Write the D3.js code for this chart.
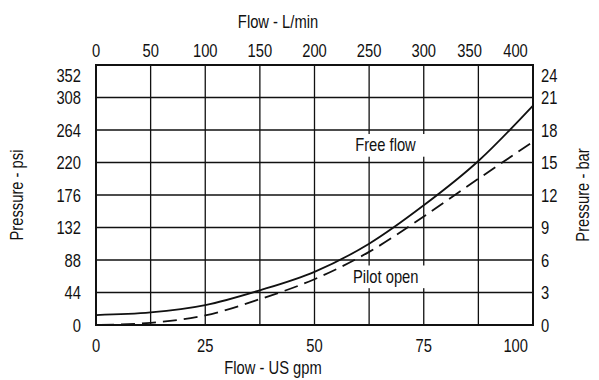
<!DOCTYPE html>
<html>
<head>
<meta charset="utf-8">
<script src="https://cdn.jsdelivr.net/npm/d3@7"></script>
<style>
  html, body { margin: 0; padding: 0; background: #fff; }
  svg text { font-family: "Liberation Sans", Arial, sans-serif; font-size: 18px; fill: #111; }
</style>
</head>
<body>
<svg id="chart" width="599" height="380"></svg>
<script>
// Flow (US gpm) sampled along each curve
const flowGpm = [0, 12.5, 25, 37.5, 50, 62.5, 75, 87.5, 100];
// Pressure drop (psi) for each curve
const freeFlowPsi  = [13.5, 17, 27, 47, 72, 110, 162, 222, 297];
const pilotOpenPsi = [0, 3, 13, 35, 62, 99, 147, 198, 248];

// Axis tick labels
const gpmTicks = [0, 25, 50, 75, 100];
const lpmTicks = [0, 50, 100, 150, 200, 250, 300, 350, 400];
const psiTicks = [0, 44, 88, 132, 176, 220, 264, 308, 352];
const barTicks = [0, 3, 6, 9, 12, 15, 18, 21, 24];

// Curve labels, placed in data units (gpm, psi)
const curveLabels = [
  { text: "Free flow",  gpm: 59.3, psi: 235 },
  { text: "Pilot open", gpm: 58.8, psi: 57 }
];

const svg = d3.select("#chart");
const L = 96, R = 533, T = 65, B = 325;
const NARROW = 0.82; // horizontal squeeze for a condensed face

const x = d3.scaleLinear().domain([0, 100]).range([L, R]);
const yPsi = d3.scaleLinear().domain([0, 352]).range([B, T]);
const yBar = d3.scaleLinear().domain([0, 24]).range([B, T]);
// L/min labels sit on the grid columns, the last two squeezed toward the edge
const xLpm = d3.scaleLinear().domain([0, 300, 400]).range([x(0), x(75), x(96)]);

// Draw condensed text: a group at (px, py), optionally rotated, squeezed horizontally
function label(parent, px, py, str, anchor, rot) {
  const g = parent.append("g")
    .attr("transform", `translate(${px},${py})${rot ? ` rotate(${rot})` : ""} scale(${NARROW},1)`);
  g.append("text").attr("text-anchor", anchor || "middle").text(str);
  return g;
}

// Grid
const gridCols = d3.range(12.5, 100, 12.5);
svg.append("g").selectAll("line").data(gridCols).join("line")
  .attr("x1", d => x(d)).attr("x2", d => x(d))
  .attr("y1", T).attr("y2", B)
  .attr("stroke", "#111").attr("stroke-width", 1.3);
svg.append("g").selectAll("line").data(psiTicks.slice(1, -1)).join("line")
  .attr("x1", L).attr("x2", R)
  .attr("y1", d => yPsi(d)).attr("y2", d => yPsi(d))
  .attr("stroke", "#111").attr("stroke-width", 1.3);

// Curve labels with white backing boxes over the grid
const curveLabelLayer = svg.append("g");
curveLabels.forEach(c => {
  const g = label(curveLabelLayer, x(c.gpm), yPsi(c.psi), c.text, "start");
  const bb = g.select("text").node().getBBox();
  g.insert("rect", "text")
    .attr("x", bb.x - 6).attr("y", bb.y - 1)
    .attr("width", bb.width + 19).attr("height", bb.height + 3)
    .attr("fill", "#fff");
});

// Frame
svg.append("rect")
  .attr("x", L).attr("y", T).attr("width", R - L).attr("height", B - T)
  .attr("fill", "none").attr("stroke", "#111").attr("stroke-width", 2);

// Curves
const line = d3.line().x(d => x(d[0])).y(d => yPsi(d[1])).curve(d3.curveMonotoneX);
svg.append("path")
  .datum(flowGpm.map((g, i) => [g, freeFlowPsi[i]]))
  .attr("d", line)
  .attr("fill", "none").attr("stroke", "#111").attr("stroke-width", 1.8);
svg.append("path")
  .datum(flowGpm.map((g, i) => [g, pilotOpenPsi[i]]))
  .attr("d", line)
  .attr("fill", "none").attr("stroke", "#111").attr("stroke-width", 1.8)
  .attr("stroke-dasharray", "14,7").attr("stroke-dashoffset", 17);

// Bottom axis labels (US gpm)
const gpmAxis = svg.append("g");
gpmTicks.forEach((d, i) => {
  const last = i === gpmTicks.length - 1;
  label(gpmAxis, x(d) - (last ? 5 : 0), 352, d, last ? "end" : "middle");
});

// Top axis labels (L/min)
const lpmAxis = svg.append("g");
lpmTicks.forEach(d => label(lpmAxis, xLpm(d), 56.5, d, "middle"));

// Left axis labels (psi)
const psiAxis = svg.append("g");
psiTicks.forEach((d, i) => {
  label(psiAxis, 81, yPsi(d) + (i === psiTicks.length - 1 ? 17 : 6.5), d, "end");
});

// Right axis labels (bar)
const barAxis = svg.append("g");
barTicks.forEach((d, i) => {
  label(barAxis, 541, yBar(d) + (i === barTicks.length - 1 ? 17 : 6.5), d, "start");
});

// Axis titles
label(svg, 278, 28, "Flow - L/min", "middle");
label(svg, 273, 374, "Flow - US gpm", "middle");
label(svg, 23, (T + B) / 2, "Pressure - psi", "middle", -90);
label(svg, 589, (T + B) / 2, "Pressure - bar", "middle", -90);
</script>
</body>
</html>
